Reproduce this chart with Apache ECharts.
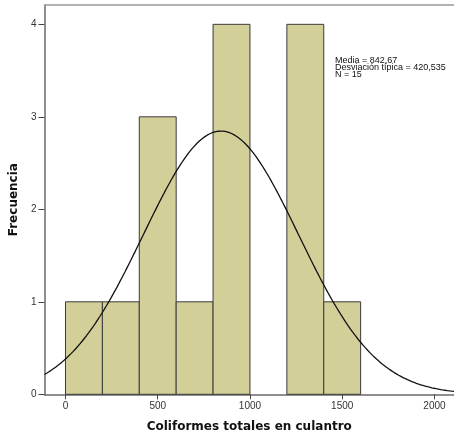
<!DOCTYPE html>
<html>
<head>
<meta charset="utf-8">
<script src="https://cdn.jsdelivr.net/npm/echarts@6/dist/echarts.min.js"></script>
<style>
  html, body { margin: 0; padding: 0; background: #fff; }
  #chart { width: 454px; height: 443px; }
</style>
</head>
<body>
<div id="chart"></div>
<script>
// Histogram bins (width 200) and their frequencies
const binStarts = [0, 200, 400, 600, 800, 1000, 1200, 1400];
const binWidth = 200;
const frequencies = [1, 1, 3, 1, 4, 0, 4, 1];

// Summary statistics shown in the box and used for the normal curve
const mean = 842.67;
const stdDev = 420.535;
const sampleSize = 15;

// Axis ticks
const xTicks = [0, 500, 1000, 1500, 2000];
const yTicks = [0, 1, 2, 3, 4];

const X_MIN = -114, X_MAX = 2106;

// Normal density scaled to counts per bin
const curve = [];
for (let x = X_MIN; x <= X_MAX + 1; x += 6) {
  const z = (x - mean) / stdDev;
  const y = sampleSize * binWidth * Math.exp(-0.5 * z * z) / (stdDev * Math.sqrt(2 * Math.PI));
  curve.push([x, y]);
}

const bars = binStarts.map((s, i) => [s, s + binWidth, frequencies[i]]);

const fmt = (v, d) => v.toFixed(d).replace('.', ',');
const statsText = [
  'Media = ' + fmt(mean, 2),
  'Desviación típica = ' + fmt(stdDev, 3),
  'N = ' + sampleSize
].join('\n');

const chart = echarts.init(document.getElementById('chart'), null, { renderer: 'canvas' });
chart.setOption({
  animation: false,
  backgroundColor: '#ffffff',
  grid: { left: 44, right: 0, top: 5, bottom: 48.7, containLabel: false },
  xAxis: [{
    type: 'value',
    min: X_MIN,
    max: X_MAX,
    name: 'Coliformes totales en culantro',
    nameLocation: 'middle',
    nameGap: 27,
    nameTextStyle: { fontFamily: 'DejaVu Sans', fontWeight: 'bold', fontSize: 12, color: '#111' },
    splitLine: { show: false },
    axisLine: { onZero: false, lineStyle: { color: '#6a6a6a', width: 1.5 } },
    axisTick: { show: true, length: 5, customValues: xTicks, lineStyle: { color: '#444' } },
    axisLabel: {
      customValues: xTicks, margin: 7, fontFamily: 'Liberation Sans', fontSize: 10, color: '#333',
      formatter: v => String(v)
    }
  }, {
    type: 'value',
    position: 'top',
    min: X_MIN,
    max: X_MAX,
    splitLine: { show: false },
    axisLine: { show: true, onZero: false, lineStyle: { color: '#9a9a9a', width: 1.5 } },
    axisTick: { show: false },
    axisLabel: { show: false }
  }],
  yAxis: {
    type: 'value',
    min: 0,
    max: 4.209,
    name: 'Frecuencia',
    nameLocation: 'middle',
    nameGap: 22,
    nameTextStyle: { fontFamily: 'DejaVu Sans', fontWeight: 'bold', fontSize: 12, color: '#111' },
    splitLine: { show: false },
    axisLine: { show: true, onZero: false, lineStyle: { color: '#6a6a6a', width: 1.5 } },
    axisTick: { show: true, length: 6, customValues: yTicks, lineStyle: { color: '#444' } },
    axisLabel: {
      customValues: yTicks, margin: 8, fontFamily: 'Liberation Sans', fontSize: 10, color: '#333',
      formatter: v => String(v)
    }
  },
  series: [{
    type: 'custom',
    data: bars,
    encode: { x: [0, 1], y: 2 },
    renderItem: function (params, api) {
      const h = api.value(2);
      if (!h) return null;
      const p0 = api.coord([api.value(0), h]);
      const p1 = api.coord([api.value(1), 0]);
      return {
        type: 'rect',
        shape: { x: p0[0], y: p0[1], width: p1[0] - p0[0], height: p1[1] - p0[1] },
        style: { fill: '#d3cf99', stroke: '#3a3a3a', lineWidth: 1 }
      };
    },
    z: 2
  }, {
    type: 'line',
    data: curve,
    showSymbol: false,
    smooth: false,
    lineStyle: { color: '#111', width: 1.3 },
    z: 3
  }],
  graphic: [{
    type: 'text',
    left: 335,
    top: 56.5,
    style: {
      text: statsText,
      fontFamily: 'Liberation Sans',
      fontSize: 9,
      lineHeight: 7,
      fill: '#111'
    },
    z: 10
  }]
});
</script>
</body>
</html>
